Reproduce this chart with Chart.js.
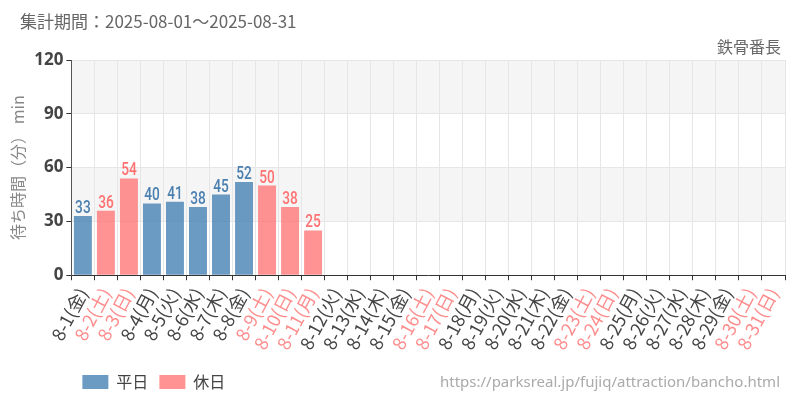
<!DOCTYPE html>
<html lang="ja">
<head>
<meta charset="UTF-8">
<title>鉄骨番長 待ち時間</title>
<script src="https://cdn.jsdelivr.net/npm/chart.js"></script>
<style>
  html, body { margin: 0; padding: 0; background: #fff; }
  #wrap { width: 800px; height: 400px; }
</style>
</head>
<body>
<div id="wrap"><canvas id="waitChart" width="800" height="400"></canvas></div>
<script>
  // 集計データ (2025年8月)
  const days = ['8-1','8-2','8-3','8-4','8-5','8-6','8-7','8-8','8-9','8-10',
                '8-11','8-12','8-13','8-14','8-15','8-16','8-17','8-18','8-19','8-20',
                '8-21','8-22','8-23','8-24','8-25','8-26','8-27','8-28','8-29','8-30','8-31'];
  const weekdays = ['金','土','日','月','火','水','木','金','土','日',
                    '月','火','水','木','金','土','日','月','火','水',
                    '木','金','土','日','月','火','水','木','金','土','日'];
  // 土日祝 (8-11 山の日)
  const holidays = [false,true,true,false,false,false,false,false,true,true,
                    true,false,false,false,false,true,true,false,false,false,
                    false,false,true,true,false,false,false,false,false,true,true];
  const waitTimes = [33,36,54,40,41,38,45,52,50,38,
                     25,null,null,null,null,null,null,null,null,null,
                     null,null,null,null,null,null,null,null,null,null,null];
  const yTicks = [0, 30, 60, 90, 120];

  const weekdayColor = 'rgba(70,130,180,0.8)';
  const holidayColor = 'rgba(255,110,110,0.75)';
  const weekdayText = '#4a7fb0';
  const holidayText = '#ff7272';

  const labels = days.map((d, i) => d + '(' + weekdays[i] + ')');
  const weekdayData = waitTimes.map((v, i) => holidays[i] ? null : v);
  const holidayData = waitTimes.map((v, i) => holidays[i] ? v : null);

  // 30分ごとの帯
  const bandPlugin = {
    id: 'bands',
    beforeDraw(chart) {
      const { ctx, chartArea, scales: { y } } = chart;
      ctx.save();
      ctx.fillStyle = '#f5f5f5';
      for (let i = 1; i < yTicks.length - 1; i += 2) {
        const top = y.getPixelForValue(yTicks[i + 1]);
        const bottom = y.getPixelForValue(yTicks[i]);
        ctx.fillRect(chartArea.left, top, chartArea.right - chartArea.left, bottom - top);
      }
      ctx.restore();
    }
  };

  // 棒の上の数値 (細長い数字)
  const valuePlugin = {
    id: 'values',
    afterDatasetsDraw(chart) {
      const ctx = chart.ctx;
      chart.data.datasets.forEach((ds, di) => {
        const meta = chart.getDatasetMeta(di);
        meta.data.forEach((bar, i) => {
          const v = ds.data[i];
          if (v == null) return;
          ctx.save();
          ctx.translate(bar.x, bar.y - 3);
          ctx.scale(0.72, 1);
          ctx.font = '500 19px Roboto, sans-serif';
          ctx.textAlign = 'center';
          ctx.textBaseline = 'alphabetic';
          ctx.fillStyle = di === 0 ? weekdayText : holidayText;
          ctx.fillText(String(v), 0, 0);
          ctx.restore();
        });
      });
    }
  };

  // 見出しなど
  const textPlugin = {
    id: 'texts',
    afterDraw(chart) {
      const ctx = chart.ctx;
      ctx.save();
      ctx.textBaseline = 'middle';
      ctx.fillStyle = '#666';
      ctx.font = '17px "Noto Sans CJK JP", sans-serif';
      ctx.textAlign = 'left';
      ctx.fillText('集計期間：2025-08-01～2025-08-31', 20, 22);
      ctx.font = '16px "Noto Sans CJK JP", sans-serif';
      ctx.textAlign = 'right';
      ctx.fillText('鉄骨番長', 781, 47);
      ctx.fillStyle = '#aaa';
      ctx.font = '15px "Noto Sans", sans-serif';
      ctx.fillText('https://parksreal.jp/fujiq/attraction/bancho.html', 780, 383);
      ctx.restore();
    }
  };

  new Chart(document.getElementById('waitChart'), {
    type: 'bar',
    data: {
      labels: labels,
      datasets: [
        { label: '平日', data: weekdayData, backgroundColor: weekdayColor },
        { label: '休日', data: holidayData, backgroundColor: holidayColor }
      ]
    },
    options: {
      responsive: false,
      animation: false,
      devicePixelRatio: 1,
      layout: { padding: { top: 60, left: 8, right: 15, bottom: 0 } },
      datasets: {
        bar: { grouped: false, barPercentage: 0.78, categoryPercentage: 1.0 }
      },
      plugins: {
        legend: {
          position: 'bottom',
          align: 'start',
          fullSize: false,
          labels: {
            boxWidth: 26,
            boxHeight: 14,
            padding: 11,
            color: '#444',
            font: { size: 16, family: '"Noto Sans CJK JP", sans-serif' }
          }
        },
        tooltip: { enabled: false }
      },
      scales: {
        x: {
          grid: { color: '#e6e6e6', tickColor: '#333', tickLength: 5 },
          border: { color: '#333' },
          afterFit: (axis) => { axis.height += 6; },
          ticks: {
            autoSkip: false,
            minRotation: 62,
            maxRotation: 62,
            padding: 4,
            font: { size: 18, family: '"Noto Sans CJK JP", sans-serif' },
            color: (c) => holidays[c.index] ? '#ff8c8c' : '#444'
          }
        },
        y: {
          min: 0,
          max: 120,
          afterBuildTicks: (axis) => { axis.ticks = yTicks.map(v => ({ value: v })); },
          grid: { color: '#e6e6e6', tickColor: '#333', tickLength: 5 },
          border: { color: '#555' },
          ticks: {
            padding: 3,
            color: '#444',
            font: { size: 17, weight: 'bold', family: '"Noto Sans", sans-serif' }
          },
          title: {
            display: true,
            text: '待ち時間（分） min',
            color: '#888',
            padding: { top: 0, bottom: 4 },
            font: { size: 16, family: '"Noto Sans CJK JP", sans-serif' }
          }
        }
      }
    },
    plugins: [bandPlugin, valuePlugin, textPlugin]
  });
</script>
</body>
</html>
